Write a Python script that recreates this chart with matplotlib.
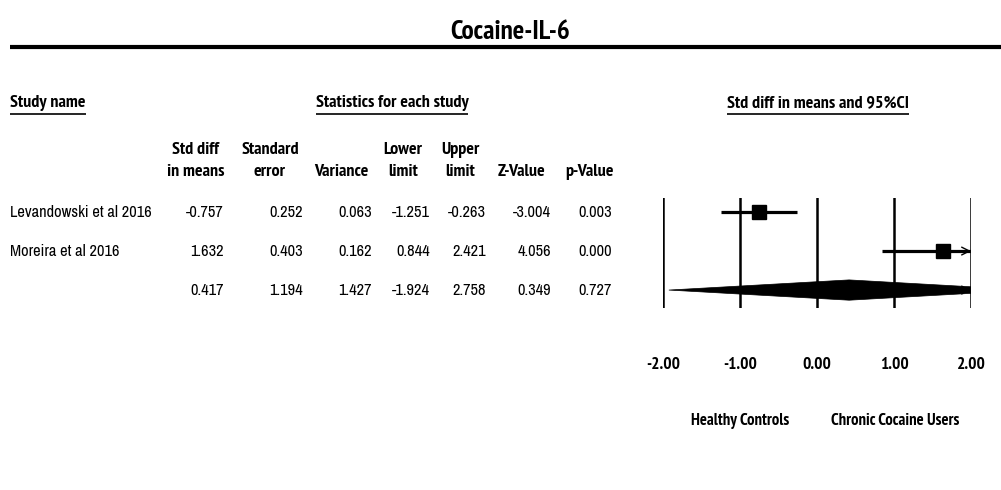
import matplotlib
matplotlib.use("Agg")
import matplotlib.pyplot as plt
from matplotlib.patches import Polygon

plt.rcParams["font.family"] = ["Arial Narrow", "Liberation Sans Narrow", "Archivo Narrow",
                               "Roboto Condensed", "PT Sans Narrow", "DejaVu Sans"]
plt.rcParams["font.stretch"] = "condensed"
BOLD = dict(fontweight="bold",
            family=["PT Sans Narrow", "Arial Narrow", "Archivo Narrow", "DejaVu Sans"])

TITLE = "Cocaine-IL-6"
studies = ["Levandowski et al 2016", "Moreira et al 2016", ""]
smd = [-0.757, 1.632, 0.417]
std_err = [0.252, 0.403, 1.194]
variance = [0.063, 0.162, 1.427]
lower = [-1.251, 0.844, -1.924]
upper = [-0.263, 2.421, 2.758]
z_value = [-3.004, 4.056, 0.349]
p_value = [0.003, 0.000, 0.727]

col_headers = [("Std diff", "in means"), ("Standard", "error"), ("", "Variance"),
               ("Lower", "limit"), ("Upper", "limit"), ("", "Z-Value"), ("", "p-Value")]
xticks = [-2, -1, 0, 1, 2]
xlabel_left = "Healthy Controls"
xlabel_right = "Chronic Cocaine Users"

W, H = 1001, 490
fig = plt.figure(figsize=(W / 100, H / 100), dpi=100)
fig.patch.set_facecolor("white")

# overlay axes in pixel coordinates for the table part
tx = fig.add_axes([0, 0, 1, 1])
tx.set_xlim(0, W)
tx.set_ylim(H, 0)
tx.axis("off")

FS = 11.8
HS = 13
tx.text(W / 2 + 10, 32, TITLE, ha="center", va="center", fontsize=19.5, **BOLD)
tx.plot([10, W], [47, 47], color="black", lw=3, solid_capstyle="butt")

headers = [(10, "left", "Study name"), (392, "center", "Statistics for each study"),
           (818, "center", "Std diff in means and 95%CI")]
head_texts = []
for x, ha, s in headers:
    head_texts.append(tx.text(x, 103, s, ha=ha, va="center", fontsize=HS, **BOLD))

col_centers = [196, 270, 341, 403, 460, 522, 589]
col_rights = [224, 303, 372, 430, 486, 551, 612]
for cx, (l1, l2) in zip(col_centers, col_headers):
    if l1:
        tx.text(cx, 150, l1, ha="center", va="center", fontsize=HS, **BOLD)
    tx.text(cx, 172, l2, ha="center", va="center", fontsize=HS, **BOLD)

row_y = [212, 251, 290]
columns = [smd, std_err, variance, lower, upper, z_value, p_value]
for i, y in enumerate(row_y):
    tx.text(10, y, studies[i], ha="left", va="center", fontsize=FS)
    for xr, col in zip(col_rights, columns):
        tx.text(xr, y, f"{col[i]:.3f}", ha="right", va="center", fontsize=FS)

# underline headers
fig.canvas.draw()
r = fig.canvas.get_renderer()
inv = tx.transData.inverted()
for t in head_texts:
    bb = t.get_window_extent(r)
    (x0, _), (x1, _) = inv.transform([(bb.x0, bb.y0), (bb.x1, bb.y0)])
    tx.plot([x0, x1], [114, 114], color="black", lw=1.2, solid_capstyle="butt")

# forest plot axes
xl, xr_, yt, yb = 663, 971, 198, 308
ax = fig.add_axes([xl / W, 1 - yb / H, (xr_ - xl) / W, (yb - yt) / H])
ax.set_xlim(-2, 2)
ax.set_ylim(2.46, -0.36)
ax.patch.set_alpha(0)
for s in ax.spines.values():
    s.set_visible(False)
for xt in xticks:
    ax.axvline(xt, color="black", lw=1.8, zorder=1)

for i in range(2):
    hi = min(upper[i], 2)
    ax.plot([lower[i], hi], [i, i], color="black", lw=2.3, solid_capstyle="butt", zorder=3)
    ax.plot([smd[i]], [i], marker="s", markersize=10.5, color="black", zorder=4)
    if upper[i] > 2:
        ax.annotate("", xy=(2.0, i), xytext=(1.9, i), annotation_clip=False,
                    arrowprops=dict(arrowstyle="->", lw=1.0, color="black",
                                    mutation_scale=14, shrinkA=0, shrinkB=0))

k = 2
dh = 0.26
diamond = Polygon([(lower[k], k), (smd[k], k - dh), (upper[k], k), (smd[k], k + dh)],
                  closed=True, facecolor="black", edgecolor="black", lw=0.5, zorder=3)
ax.add_patch(diamond)
if upper[k] > 2:
    ax.annotate("", xy=(2.0, k), xytext=(1.9, k), annotation_clip=False,
                arrowprops=dict(arrowstyle="->", lw=1.0, color="black",
                                mutation_scale=14, shrinkA=0, shrinkB=0))

ax.set_xticks(xticks)
ax.set_xticklabels([f"{v:.2f}" for v in xticks], fontsize=12.5, **BOLD)
ax.tick_params(axis="x", length=0, pad=35)
ax.set_yticks([])

tx.text(740, 421, xlabel_left, ha="center", va="center", fontsize=12, **BOLD)
tx.text(895, 421, xlabel_right, ha="center", va="center", fontsize=12, **BOLD)

fig.savefig("out.png", dpi=100, facecolor="white")
